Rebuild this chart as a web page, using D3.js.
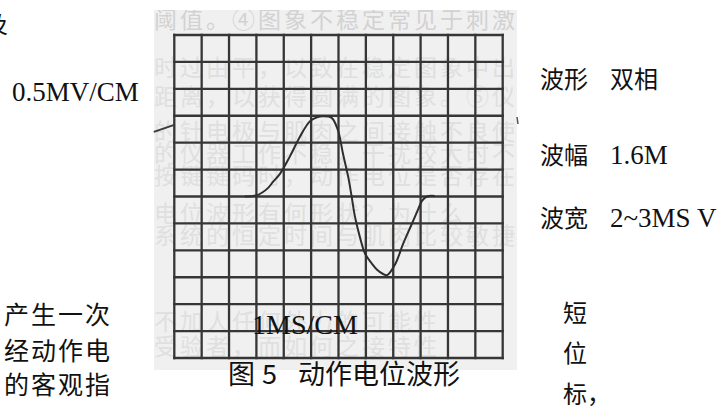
<!DOCTYPE html>
<html>
<head>
<meta charset="utf-8">
<script src="https://cdn.jsdelivr.net/npm/d3@7"></script>
<style>
  html, body { margin: 0; padding: 0; background: #fff; }
  svg { display: block; }
  .cjk { font-family: "Noto Sans CJK SC", "Noto Sans", sans-serif; }
  .serif { font-family: "Liberation Serif", "DejaVu Serif", serif; }
</style>
</head>
<body>
<svg id="chart" width="721" height="409"></svg>
<script>
// Action potential trace: time along the sweep (ms, 1 ms per division)
const timeMs = [2.58, 2.99, 3.20, 3.43, 3.62, 3.86, 4.23, 4.59, 4.96, 5.21, 5.43, 5.75,
                5.98, 6.17, 6.36, 6.48, 6.60, 6.78, 6.97, 7.21, 7.41, 7.63, 7.78, 8.07,
                8.36, 8.67, 8.91, 9.05, 9.23, 9.52];
// Potential (mV, 0.5 mV per division)
const voltMv = [0.00, 0.02, 0.07, 0.16, 0.28, 0.42, 0.75, 1.11, 1.40, 1.47, 1.49, 1.46,
                1.23, 0.78, 0.35, 0.00, -0.37, -0.75, -1.06, -1.24, -1.36, -1.44, -1.46, -1.26,
                -0.88, -0.52, -0.24, -0.08, 0.00, 0.01];

// Screen divisions
const timeDivs = d3.range(0, 13);                          // 0..12 ms
const voltDivs = d3.range(0, 13).map(i => -3 + i * 0.5);  // -3..3 mV

// Scale labels and readings
const sweepLabel = "1MS/CM";
const gainLabel = "0.5MV/CM";
const readingNames = ["波形", "波幅", "波宽"];
const readingValues = ["双相", "1.6M", "2~3MS V"];
const captionParts = ["图", "5", "动作电位波形"];

// Surrounding page text
const leftLines = ["产生一次", "经动作电", "的客观指"];
const rightChars = ["短", "位", "标，"];
const showThrough = [
  "阈值。④图象不稳定常见于刺激",
  "时过由平，以致在稳定图象中出现",
  "距离，以获得圆满的图象。⑤仪器",
  "的针电极与肌肉之间接触不良使",
  "的仪器工作不稳，干扰较大时不稳",
  "按键键码时，动作电位是否存在",
  "电位波形有何形状？为什么",
  "系统的恒定时间与肌肉比较敏捷",
  "不加人任何外力的可能性",
  "受验者，而如何之接特性"
];
const showThroughY = [28, 76, 105, 140, 162, 184, 222, 244, 330, 355];

const svg = d3.select("#chart");

const x = d3.scaleLinear().domain([0, 12]).range([174.3, 502.7]);
const y = d3.scaleLinear().domain([-3, 3]).range([358, 35]);

// Scanned paper panel
svg.append("rect")
  .attr("x", 154).attr("y", 10).attr("width", 363).attr("height", 360)
  .attr("fill", "#f0f0f0");

svg.append("clipPath").attr("id", "panelClip")
  .append("rect").attr("x", 154).attr("y", 10).attr("width", 363).attr("height", 360);

// Faint print showing through the paper
svg.append("g").attr("clip-path", "url(#panelClip)")
  .selectAll("text").data(showThrough).join("text")
  .attr("class", "cjk")
  .attr("x", 154)
  .attr("y", (d, i) => showThroughY[i])
  .attr("font-size", 23)
  .attr("letter-spacing", 3)
  .attr("fill", (d, i) => i === 0 ? "#d2d2d2" : "#dfdfdf")
  .text(d => d);

// Grid
const grid = svg.append("g")
  .attr("stroke", "#363636")
  .attr("stroke-width", 2.3)
  .attr("stroke-linecap", "square");

grid.selectAll("line.v").data(timeDivs).join("line")
  .attr("class", "v")
  .attr("x1", d => x(d)).attr("x2", d => x(d))
  .attr("y1", y(3)).attr("y2", y(-3));

grid.selectAll("line.h").data(voltDivs).join("line")
  .attr("class", "h")
  .attr("x1", x(0)).attr("x2", x(12))
  .attr("y1", d => y(d)).attr("y2", d => y(d));

// Leader line from the gain label
svg.append("line")
  .attr("x1", x(-0.75)).attr("y1", y(1.2))
  .attr("x2", x(0)).attr("y2", y(1.33))
  .attr("stroke", "#3a3a3a").attr("stroke-width", 2);

// Small stray mark right of the screen
svg.append("line")
  .attr("x1", 517).attr("y1", 117).attr("x2", 518).attr("y2", 124)
  .attr("stroke", "#555").attr("stroke-width", 1.5);

// Waveform
const line = d3.line()
  .x((d, i) => x(timeMs[i]))
  .y(d => y(d))
  .curve(d3.curveCatmullRom.alpha(0.5));

svg.append("path")
  .datum(voltMv)
  .attr("d", line)
  .attr("fill", "none")
  .attr("stroke", "#2e2e2e")
  .attr("stroke-width", 2);

// Scale labels
svg.append("text").attr("class", "serif")
  .attr("x", 252).attr("y", 334).attr("font-size", 28).attr("fill", "#111")
  .text(sweepLabel);

svg.append("text").attr("class", "serif")
  .attr("x", 12).attr("y", 101).attr("font-size", 27).attr("fill", "#111")
  .text(gainLabel);

// Readings
const readingY = [88, 164, 227];
svg.selectAll("text.rname").data(readingNames).join("text")
  .attr("class", "cjk rname")
  .attr("x", 540).attr("y", (d, i) => readingY[i])
  .attr("font-size", 24).attr("fill", "#111")
  .text(d => d);

svg.selectAll("text.rval").data(readingValues).join("text")
  .attr("class", (d, i) => (i === 0 ? "cjk" : "serif") + " rval")
  .attr("x", 610).attr("y", (d, i) => readingY[i])
  .attr("font-size", (d, i) => i === 0 ? 24 : 27).attr("fill", "#111")
  .text(d => d);

// Caption
const capX = [228, 262, 298];
svg.selectAll("text.cap").data(captionParts).join("text")
  .attr("class", "cjk cap")
  .attr("x", (d, i) => capX[i]).attr("y", 384)
  .attr("font-size", 27).attr("fill", "#111")
  .text(d => d);

// Page text around the figure
svg.append("text").attr("class", "cjk")
  .attr("x", -16).attr("y", 33).attr("font-size", 24).attr("fill", "#111")
  .text("及");

const leftY = [324, 360, 394];
svg.selectAll("text.left").data(leftLines).join("text")
  .attr("class", "cjk left")
  .attr("x", 4).attr("y", (d, i) => leftY[i])
  .attr("font-size", 25).attr("letter-spacing", 2).attr("fill", "#111")
  .text(d => d);

const rightY = [322, 362, 403];
svg.selectAll("text.right").data(rightChars).join("text")
  .attr("class", "cjk right")
  .attr("x", 563).attr("y", (d, i) => rightY[i])
  .attr("font-size", 24).attr("fill", "#111")
  .text(d => d);
</script>
</body>
</html>
